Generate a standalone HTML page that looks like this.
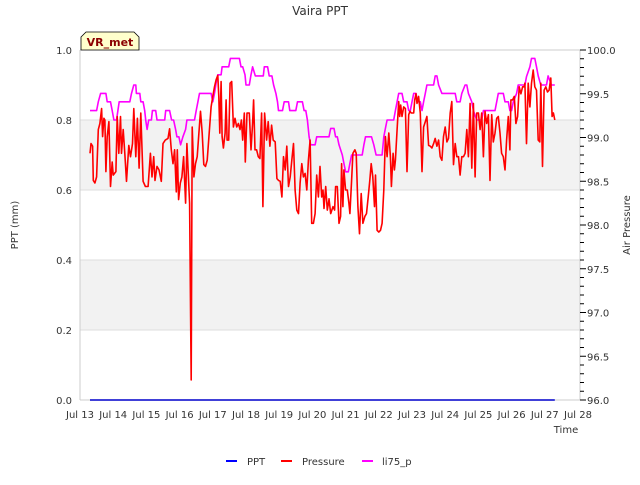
<!DOCTYPE html>
<html><head><meta charset="utf-8"><style>
body{margin:0;background:#fff}
svg text{font-family:"DejaVu Sans","Liberation Sans",sans-serif;fill:#333}
</style></head><body>
<svg id="c" width="640" height="480" xmlns="http://www.w3.org/2000/svg">
<rect x="0" y="0" width="640" height="480" fill="#fff"/>
<g id="bands"></g><g id="grid"></g>
<line x1="80" y1="50" x2="80" y2="400" stroke="#ccc"/>
<line x1="580" y1="50" x2="580" y2="400" stroke="#ccc"/>
<line x1="80" y1="400" x2="580" y2="400" stroke="#ccc"/>
<line x1="80" y1="50" x2="580" y2="50" stroke="#ccc"/>
<g id="series"></g>
<g id="axes"></g>
<text x="320" y="15" text-anchor="middle" font-size="12">Vaira PPT</text>
<text x="18" y="225" text-anchor="middle" font-size="10" transform="rotate(-90 18 225)">PPT (mm)</text>
<text x="630" y="225" text-anchor="middle" font-size="10" transform="rotate(-90 630 225)">Air Pressure</text>
<text x="566" y="433" text-anchor="middle" font-size="10">Time</text>
<g>
<path d="M81,50 L81,37 L86,32 L134,32 L139,37 L139,50 Z" fill="#ffffcc" stroke="#000" stroke-width="0.8"/>
<text x="110" y="46" text-anchor="middle" font-size="11" font-weight="bold" style="fill:#8b0000">VR_met</text>
</g>
<g>
<line x1="226" y1="461" x2="237" y2="461" stroke="#0000ff" stroke-width="2"/>
<text x="247" y="465" font-size="10">PPT</text>
<line x1="281" y1="461" x2="292" y2="461" stroke="#ff0000" stroke-width="2"/>
<text x="302" y="465" font-size="10">Pressure</text>
<line x1="362" y1="461" x2="373" y2="461" stroke="#ff00ff" stroke-width="2"/>
<text x="382" y="465" font-size="10">li75_p</text>
</g>
</svg>
<script>
const xTickLabels=["Jul 13","Jul 14","Jul 15","Jul 16","Jul 17","Jul 18","Jul 19","Jul 20","Jul 21","Jul 22","Jul 23","Jul 24","Jul 25","Jul 26","Jul 27","Jul 28"];
const leftTicks=[0,0.2,0.4,0.6,0.8,1.0];
const rightTicks=[96,96.5,97,97.5,98,98.5,99,99.5,100];
const pptDays=[0.3,14.3];
const pptVals=[0,0];
const presDays=[0.30,0.33,0.38,0.40,0.45,0.50,0.55,0.60,0.65,0.68,0.72,0.75,0.78,0.82,0.87,0.92,0.97,1.00,1.08,1.12,1.17,1.22,1.25,1.30,1.35,1.40,1.47,1.52,1.58,1.62,1.68,1.73,1.78,1.83,1.90,1.97,2.05,2.12,2.17,2.22,2.26,2.32,2.38,2.45,2.50,2.57,2.65,2.70,2.75,2.80,2.85,2.90,2.93,2.97,3.02,3.07,3.12,3.18,3.22,3.30,3.33,3.35,3.38,3.43,3.48,3.53,3.58,3.63,3.68,3.73,3.78,3.83,3.90,3.95,4.00,4.05,4.10,4.15,4.18,4.21,4.25,4.28,4.32,4.37,4.40,4.43,4.48,4.52,4.57,4.62,4.67,4.72,4.77,4.82,4.86,4.90,4.95,4.98,5.03,5.10,5.15,5.20,5.23,5.27,5.32,5.37,5.42,5.47,5.51,5.56,5.62,5.67,5.72,5.77,5.82,5.88,5.93,5.98,6.03,6.08,6.13,6.18,6.23,6.28,6.33,6.38,6.43,6.48,6.53,6.58,6.63,6.68,6.73,6.78,6.83,6.88,6.93,6.98,7.03,7.08,7.13,7.18,7.23,7.28,7.32,7.35,7.40,7.45,7.50,
7.50,7.55,7.62,7.67,7.70,7.75,7.80,7.85,7.88,7.92,7.95,8.00,8.05,8.10,8.13,8.18,8.22,8.28,8.32,8.37,8.42,8.47,8.52,8.58,8.63,8.68,8.73,8.77,8.82,8.87,8.90,8.95,9.00,9.05,9.10,9.15,9.20,9.25,9.30,9.35,9.38,9.43,9.47,9.50,9.55,9.60,9.63,9.66,9.70,9.75,9.80,9.85,9.90,9.94,9.98,10.05,10.08,10.12,10.15,10.20,10.25,10.30,10.35,10.40,10.45,10.50,10.55,10.60,10.65,10.70,10.75,10.80,10.85,10.90,10.95,11.00,11.05,11.10,11.15,11.20,11.25,11.30,11.35,11.40,11.45,11.50,11.55,11.60,11.65,11.70,11.75,11.80,11.85,11.90,11.95,12.00,12.05,12.10,12.15,12.20,12.25,12.30,12.35,12.40,12.45,12.50,12.55,12.60,12.65,12.70,12.75,12.80,12.85,12.90,12.95,12.98,13.03,13.08,13.13,13.18,13.23,13.28,13.33,13.38,13.40,13.45,13.50,13.55,13.60,13.65,13.70,13.75,13.80,13.85,13.88,13.93,13.98,14.03,14.08,14.13,14.18,14.22,14.26,14.30];
const presVals=[98.82,98.93,98.90,98.51,98.48,98.55,99.09,99.16,99.33,99.01,99.22,99.20,98.61,99.01,99.18,98.44,98.72,98.57,98.61,99.24,98.82,99.24,98.82,99.09,98.82,98.50,98.91,98.78,98.93,99.33,98.78,99.22,98.65,99.28,98.50,98.44,98.44,98.82,98.55,98.78,98.51,98.67,98.63,98.50,98.93,98.97,98.99,99.10,98.86,98.70,98.86,98.38,98.86,98.29,98.48,98.55,98.78,98.25,98.93,98.25,96.95,96.23,99.12,98.55,98.70,98.78,99.05,99.30,99.05,98.69,98.67,98.74,99.10,99.35,99.47,99.58,99.66,99.71,99.47,99.05,99.64,99.01,98.88,99.05,99.43,98.97,98.97,99.62,99.64,99.12,99.22,99.12,99.16,99.09,99.20,98.97,99.28,98.72,99.28,99.28,98.86,99.16,99.43,98.86,98.86,98.78,98.76,99.28,98.21,99.28,98.97,99.18,98.90,99.14,98.97,98.95,98.53,98.51,98.50,98.32,98.78,98.63,98.90,98.44,98.55,98.74,98.93,98.40,98.17,98.13,98.48,98.70,98.55,98.59,98.40,98.74,98.97,98.02,98.02,98.13,98.57,98.32,98.67,98.32,98.40,98.19,98.44,98.17,98.29,
98.30,98.13,98.21,98.17,98.44,98.44,98.02,98.10,98.70,98.21,98.63,98.40,98.40,98.25,98.13,98.51,98.82,98.86,98.82,98.21,97.90,98.36,98.02,98.10,98.13,98.32,98.51,98.70,98.55,98.21,98.57,97.94,97.92,97.94,98.02,98.40,99.01,98.78,99.05,98.78,98.44,98.82,98.63,98.74,99.09,99.41,99.24,99.37,99.24,99.35,99.33,98.61,99.26,99.30,99.28,99.28,99.43,99.50,99.39,99.47,99.28,98.61,99.12,99.18,99.24,98.91,98.90,98.88,98.93,98.99,98.90,98.97,98.78,98.74,99.01,99.12,98.95,98.99,99.28,99.41,98.69,98.93,98.78,98.78,98.57,98.78,98.78,98.82,99.09,98.78,99.39,98.65,99.39,98.55,99.28,99.28,99.09,99.28,98.78,99.30,99.16,99.26,98.51,99.26,98.95,99.05,99.22,99.24,99.05,98.82,98.78,98.63,98.97,99.24,98.86,99.43,99.43,99.47,99.16,99.24,99.58,99.50,99.58,99.58,99.62,98.93,99.62,99.35,99.62,99.77,99.58,99.54,98.97,98.95,99.62,98.67,99.54,99.58,99.52,99.54,99.68,99.24,99.28,99.20];
const liDays=[0.30,0.50,0.55,0.62,0.78,0.82,0.92,0.97,1.02,1.10,1.18,1.50,1.55,1.62,1.68,1.70,1.80,1.83,1.90,1.95,1.98,2.02,2.07,2.15,2.18,2.28,2.32,2.55,2.58,2.70,2.76,2.82,2.88,2.92,2.98,3.03,3.10,3.18,3.22,3.45,3.50,3.55,3.60,3.95,4.00,4.05,4.10,4.15,4.25,4.28,4.48,4.53,4.80,4.85,4.90,4.97,5.00,5.10,5.15,5.20,5.28,5.52,5.55,5.65,5.70,5.78,5.83,5.90,5.95,5.98,6.10,6.15,6.28,6.32,6.50,6.55,6.70,6.75,6.80,6.85,6.90,6.95,7.08,7.13,7.50,
7.55,7.65,7.70,7.75,7.80,7.90,7.95,8.00,8.08,8.13,8.18,8.50,8.55,8.60,8.78,8.85,8.92,9.10,9.15,9.20,9.25,9.45,9.50,9.55,9.60,9.70,9.75,9.85,9.90,9.95,10.00,10.05,10.12,10.17,10.25,10.30,10.35,10.40,10.45,10.65,10.70,10.75,10.80,10.90,11.30,11.35,11.45,11.50,11.60,11.65,11.70,11.80,11.85,11.95,12.10,12.15,12.50,12.55,12.60,12.75,12.80,12.90,12.95,13.00,13.05,13.15,13.20,13.40,13.45,13.55,13.60,13.70,13.75,13.80,13.88,14.05,14.10,14.20,14.30];
const liVals=[0.827,0.827,0.852,0.876,0.876,0.852,0.852,0.827,0.8,0.8,0.852,0.852,0.876,0.9,0.9,0.876,0.876,0.852,0.852,0.827,0.8,0.773,0.8,0.8,0.827,0.827,0.8,0.8,0.827,0.827,0.8,0.8,0.773,0.752,0.752,0.729,0.752,0.773,0.8,0.8,0.827,0.852,0.876,0.876,0.852,0.876,0.905,0.929,0.929,0.952,0.952,0.976,0.976,0.952,0.952,0.929,0.9,0.9,0.929,0.952,0.926,0.926,0.952,0.952,0.926,0.926,0.9,0.876,0.852,0.827,0.827,0.852,0.852,0.827,0.827,0.852,0.852,0.827,0.827,0.8,0.752,0.729,0.729,0.752,0.752,
0.776,0.776,0.752,0.752,0.729,0.7,0.676,0.652,0.652,0.676,0.7,0.7,0.729,0.752,0.752,0.729,0.7,0.7,0.752,0.776,0.8,0.8,0.827,0.852,0.876,0.876,0.852,0.852,0.827,0.827,0.852,0.876,0.876,0.852,0.852,0.827,0.852,0.876,0.9,0.9,0.926,0.926,0.9,0.876,0.876,0.852,0.852,0.876,0.9,0.9,0.876,0.852,0.827,0.8,0.8,0.827,0.827,0.852,0.876,0.876,0.852,0.852,0.827,0.827,0.852,0.876,0.9,0.9,0.924,0.952,0.976,0.976,0.952,0.926,0.9,0.9,0.926,0.9,0.9];

const NS="http://www.w3.org/2000/svg";
const X0=80,PXD=33.2,YB=400,YT=50;
function xs(d){return X0+d*PXD;}
function yl(v){return YB-(v-0)/(1-0)*(YB-YT);}
function yr(p){return YB-(p-96)/(100-96)*(YB-YT);}
function mk(tag,attrs,parent){const e=document.createElementNS(NS,tag);for(const k in attrs)e.setAttribute(k,attrs[k]);parent.appendChild(e);return e;}
const bands=document.getElementById('bands'),grid=document.getElementById('grid'),axes=document.getElementById('axes'),series=document.getElementById('series');
[[0.2,0.4],[0.6,0.8]].forEach(b=>{
 const r=mk('rect',{x:80,y:yl(b[1]),width:500,height:yl(b[0])-yl(b[1]),fill:'#f2f2f2'},bands);
 
 
});
leftTicks.forEach(v=>{
 const l=mk('line',{x1:80,x2:580,y1:yl(v),y2:yl(v),stroke:'#dddddd'},grid);
 
 
 const t=mk('text',{x:72,y:yl(v)+4,'text-anchor':'end','font-size':10},axes);
 t.textContent=v.toFixed(1);
 
 
});
for(let i=0;i<=40;i++){
 const p=96+i*0.1;const major=(i%5===0);
 const l=mk('line',{x1:580,x2:major?586:584,y1:yr(p),y2:yr(p),stroke:'#000','stroke-width':1},axes);
 
 
}
rightTicks.forEach(p=>{
 const t=mk('text',{x:587,y:yr(p)+4,'font-size':10},axes);
 t.textContent=p.toFixed(1);
 
 
});
xTickLabels.forEach((s,i)=>{
 const t=mk('text',{x:xs(i),y:418,'text-anchor':'middle','font-size':10},axes);
 t.textContent=s;
 
 
});
function line(days,vals,fy,color,name){
 const pts=days.map((d,i)=>xs(d).toFixed(1)+','+fy(vals[i]).toFixed(1)).join(' ');
 const pl=mk('polyline',{points:pts,fill:'none',stroke:color,'stroke-width':1.6,'stroke-linejoin':'round'},series);
 
 
}
line(liDays,liVals,yl,'#ff00ff','li75-p-line');
line(presDays,presVals,yr,'#ff0000','pressure-line');
line(pptDays,pptVals,yl,'#0000cc','ppt-line');
</script>
</body></html>
